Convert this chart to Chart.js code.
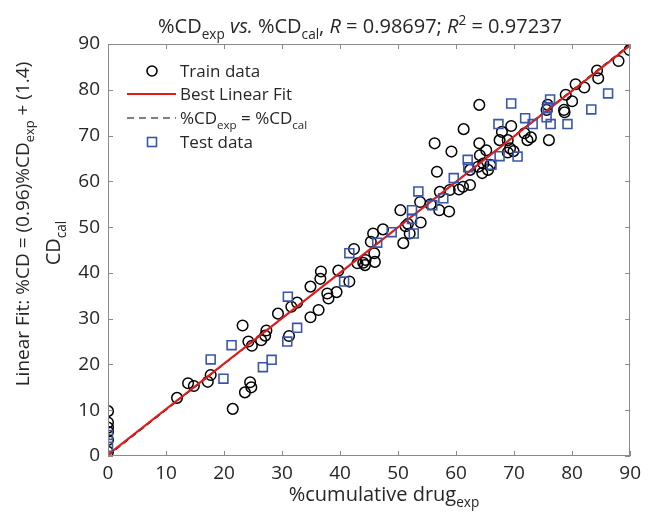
<!DOCTYPE html>
<html>
<head>
<meta charset="utf-8">
<script src="https://cdn.jsdelivr.net/npm/chart.js@4.4.1/dist/chart.umd.min.js"></script>
<style>
html,body{margin:0;padding:0;background:#fff;}
#wrap{width:647px;height:517px;position:relative;}
</style>
</head>
<body>
<div id="wrap"><canvas id="c" width="647" height="517"></canvas></div>
<script>
// ---- data ----
const trainX = [0,0,0,0,0,0,
 11.9,13.8,14.8,17.2,17.7,21.5,23.2,23.6,24.5,24.7,24.2,24.8,26.4,27.1,27.3,29.3,31.2,31.6,32.6,34.9,36.3,34.9,36.6,36.7,37.8,38.0,39.4,39.7,41.6,42.4,43.0,44.0,44.3,44.4,46.0,45.3,45.7,45.9,47.4,50.4,50.9,51.3,52.0,51.7,53.9,53.8,57.1,58.8,55.6,
 89.9,88.0,84.3,84.5,80.6,82.1,78.9,80.0,78.6,78.7,75.8,75.6,76.0,64.0,61.3,59.2,56.7,69.5,67.9,67.5,68.9,71.8,72.9,72.3,69.3,69.9,68.9,64.0,65.2,64.1,65.9,64.7,63.8,65.5,64.5,62.4,62.4,61.2,60.5,58.9,57.2,56.3];
const trainY = [9.8,7.3,6.2,5.3,3.5,0.9,
 12.7,15.9,15.3,16.2,17.7,10.3,28.5,13.9,16.1,15.0,25.0,24.1,25.3,26.3,27.4,31.1,26.2,32.6,33.5,30.3,31.9,37.0,38.7,40.3,35.5,34.4,35.8,40.5,38.1,45.2,42.1,42.2,41.7,42.8,42.4,46.8,48.6,44.3,49.5,53.7,46.5,50.2,48.6,50.7,51.0,55.5,53.7,53.4,55.0,
 88.7,86.3,84.2,82.5,81.2,80.5,78.9,77.5,75.6,75.1,76.7,75.6,69.0,76.7,71.4,66.5,62.1,72.1,70.8,69.0,69.0,70.5,69.6,69.0,67.2,66.6,66.3,68.3,66.8,65.7,63.6,63.9,63.2,62.5,61.8,62.5,59.2,58.8,58.2,58.1,57.7,68.3];
const testX = [0,0,17.7,19.9,21.3,26.7,28.2,30.9,32.6,31.0,41.6,40.7,46.4,48.9,52.4,52.4,52.7,55.9,53.5,57.8,59.6,62.0,62.1,66.1,67.5,70.6,67.3,69.5,71.9,73.2,75.6,75.8,76.2,76.3,79.2,83.3,86.2];
const testY = [4.6,2.0,21.1,16.9,24.2,19.4,21.0,25.0,28.0,34.8,44.3,38.1,46.6,48.9,53.7,51.8,48.6,54.8,57.8,56.3,60.7,64.7,63.1,63.6,65.5,65.4,72.5,77.0,73.8,72.5,74.0,76.2,77.9,72.5,72.5,75.7,79.2];
const fitX = [0, 90];
const fitY = [0.3, 89.7];
const identX = [0, 90];
const identY = [0, 90];
const xTicks = [0,10,20,30,40,50,60,70,80,90];
const yTicks = [0,10,20,30,40,50,60,70,80,90];

const FAM = '"Open Sans", "DejaVu Sans", sans-serif';
const TXT = '#262626';
const AX = '#8a8a8a';
const BLUE = '#3a56a8';
const RED = '#e21a1a';

const pts = (xs, ys) => xs.map((x, i) => ({x: x, y: ys[i]}));

// rich text helper (subscripts/superscripts/italic) drawn on canvas
function richWidth(ctx, segs, size){
  let w = 0;
  for (const s of segs){
    const sz = (s.sub || s.sup) ? size*0.68 : size;
    ctx.font = (s.it ? 'italic ' : '') + sz + 'px ' + FAM;
    w += ctx.measureText(s.t).width;
  }
  return w;
}
function rich(ctx, segs, x, y, size, align){
  const w = richWidth(ctx, segs, size);
  let cx = align === 'center' ? x - w/2 : x;
  ctx.textBaseline = 'alphabetic';
  ctx.textAlign = 'left';
  for (const s of segs){
    const sz = (s.sub || s.sup) ? size*0.68 : size;
    ctx.font = (s.it ? 'italic ' : '') + sz + 'px ' + FAM;
    const dy = s.sub ? size*0.28 : (s.sup ? -size*0.42 : 0);
    ctx.fillText(s.t, cx, y + dy);
    cx += ctx.measureText(s.t).width;
  }
}

const decor = {
  id: 'decor',
  afterDraw(chart){
    const ctx = chart.ctx;
    const xs = chart.scales.x, ys = chart.scales.y;
    const L = xs.left, R = xs.right, T = ys.top, B = ys.bottom;
    ctx.save();
    // box
    ctx.strokeStyle = AX;
    ctx.lineWidth = 1;
    ctx.strokeRect(Math.round(L)+0.5, Math.round(T)+0.5, Math.round(R-L)-1, Math.round(B-T)-1);
    // inward ticks
    ctx.beginPath();
    for (const v of xTicks){
      const px = Math.round(xs.getPixelForValue(v)) + 0.5;
      ctx.moveTo(px, B); ctx.lineTo(px, B-5);
      ctx.moveTo(px, T); ctx.lineTo(px, T+5);
    }
    for (const v of yTicks){
      const py = Math.round(ys.getPixelForValue(v)) + 0.5;
      ctx.moveTo(L, py); ctx.lineTo(L+5, py);
      ctx.moveTo(R, py); ctx.lineTo(R-5, py);
    }
    ctx.stroke();

    ctx.fillStyle = TXT;
    // title
    rich(ctx, [
      {t:'%CD'},{t:'exp',sub:1},{t:' '},{t:'vs.',it:1},{t:' %CD'},{t:'cal',sub:1},{t:', '},
      {t:'R',it:1},{t:' = 0.98697; '},{t:'R',it:1},{t:'2',sup:1},{t:' = 0.97237'}
    ], 360, 33, 20, 'center');
    // x label
    rich(ctx, [{t:'%cumulative drug'},{t:'exp',sub:1}], 384, 501, 20, 'center');
    // y labels
    ctx.save();
    ctx.translate(29, 224);
    ctx.rotate(-Math.PI/2);
    rich(ctx, [{t:'Linear Fit: %CD = (0.96)%CD'},{t:'exp',sub:1},{t:' + (1.4)'}], 0, 0, 19, 'center');
    ctx.restore();
    ctx.save();
    ctx.translate(60, 243);
    ctx.rotate(-Math.PI/2);
    rich(ctx, [{t:'CD'},{t:'cal',sub:1}], 0, 0, 20, 'center');
    ctx.restore();

    // legend
    const lx = 180, rows = [71, 94, 118, 142];
    // Train data marker
    ctx.strokeStyle = '#000'; ctx.lineWidth = 1.6;
    ctx.beginPath(); ctx.arc(152, rows[0], 5, 0, Math.PI*2); ctx.stroke();
    // Best fit line
    ctx.strokeStyle = RED; ctx.lineWidth = 2;
    ctx.beginPath(); ctx.moveTo(127, rows[1]); ctx.lineTo(176, rows[1]); ctx.stroke();
    // identity dashed
    ctx.strokeStyle = '#000'; ctx.lineWidth = 1; ctx.setLineDash([7,5]);
    ctx.beginPath(); ctx.moveTo(127, rows[2]); ctx.lineTo(176, rows[2]); ctx.stroke();
    ctx.setLineDash([]);
    // Test marker
    ctx.strokeStyle = BLUE; ctx.lineWidth = 1.6;
    ctx.strokeRect(147.5, rows[3]-4.5, 9, 9);
    ctx.fillStyle = TXT;
    rich(ctx, [{t:'Train data'}], lx, rows[0]+6, 17, 'left');
    rich(ctx, [{t:'Best Linear Fit'}], lx, rows[1]+6, 17, 'left');
    rich(ctx, [{t:'%CD'},{t:'exp',sub:1},{t:' = %CD'},{t:'cal',sub:1}], lx, rows[2]+6, 17, 'left');
    rich(ctx, [{t:'Test data'}], lx, rows[3]+6, 17, 'left');
    ctx.restore();
  }
};

new Chart(document.getElementById('c'), {
  type: 'scatter',
  data: {
    datasets: [
      {label:'Test data', data: pts(testX, testY), pointStyle:'rect', pointRadius:6.3, pointHoverRadius:6.3,
       borderColor: BLUE, backgroundColor:'rgba(0,0,0,0)', borderWidth:1.6, showLine:false, order:0},
      {label:'Best Linear Fit', data: pts(fitX, fitY), borderColor: RED, borderWidth:2, pointRadius:0,
       showLine:true, fill:false, order:1},
      {label:'%CD = %CD', data: pts(identX, identY), borderColor:'#000', borderWidth:1, borderDash:[6,4],
       pointRadius:0, showLine:true, fill:false, order:2},
      {label:'Train data', data: pts(trainX, trainY), pointStyle:'circle', pointRadius:5.3, pointHoverRadius:5.3,
       borderColor:'#000', backgroundColor:'rgba(0,0,0,0)', borderWidth:1.5, showLine:false, order:3}
    ]
  },
  options: {
    responsive: false,
    animation: false,
    layout: {padding: {left:0, right:12, top:44, bottom:0}},
    plugins: {legend:{display:false}, title:{display:false}, tooltip:{enabled:false}},
    scales: {
      x: {
        type:'linear', min:0, max:90,
        afterBuildTicks(s){ s.ticks = xTicks.map(v => ({value:v})); },
        afterFit(s){ s.height = 61; },
        grid:{display:false, drawTicks:false}, border:{display:false},
        ticks:{color:TXT, font:{family:FAM, size:19}, padding:6, maxRotation:0}
      },
      y: {
        type:'linear', min:0, max:90,
        afterBuildTicks(s){ s.ticks = yTicks.map(v => ({value:v})); },
        afterFit(s){ s.width = 108; },
        grid:{display:false, drawTicks:false}, border:{display:false},
        ticks:{color:TXT, font:{family:FAM, size:19}, padding:8}
      }
    }
  },
  plugins:[decor]
});
</script>
</body>
</html>
